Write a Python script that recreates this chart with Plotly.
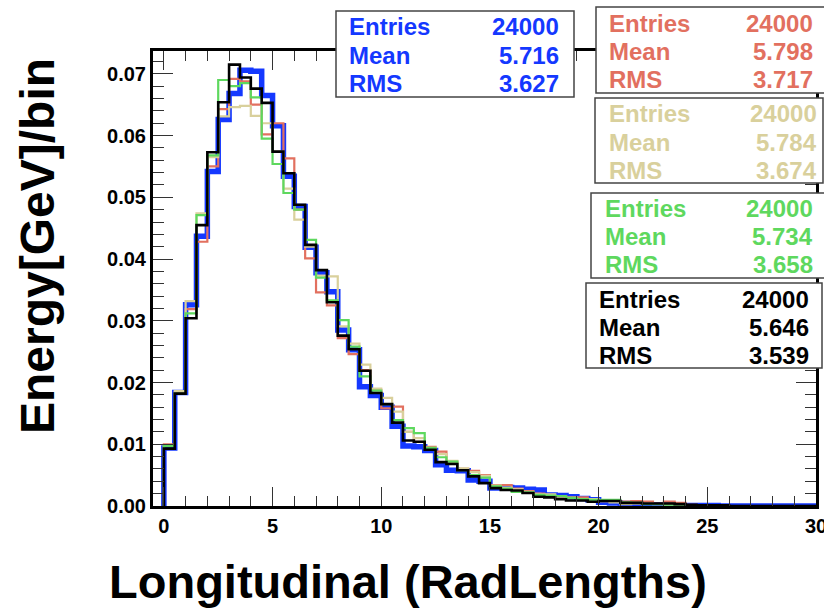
import plotly.graph_objects as go

# ---------------- data ----------------
bin_width = 0.5
x_start = 0.0

blue = [0.0094, 0.0184, 0.0326, 0.0437, 0.0542, 0.0626, 0.0668, 0.0706, 0.0704, 0.0665,
        0.0616, 0.0534, 0.0485, 0.0419, 0.0378, 0.0347, 0.0285, 0.0253, 0.0193, 0.0179,
        0.0160, 0.0129, 0.0097, 0.0096, 0.0090, 0.0067, 0.0058, 0.0057, 0.0042, 0.0040,
        0.0029, 0.0030, 0.0029, 0.0027, 0.0026, 0.0018, 0.0017, 0.0015, 0.0012, 0.0010,
        0.0006, 0.0005, 0.0004, 0.0003, 0.0002, 0.0002, 0.0002, 0.0001, 0.0001, 0.0001,
        0.0001, 0.0, 0.0, 0.0, 0.0, 0.0, 0.0, 0.0, 0.0, 0.0]
red = [0.0100, 0.0184, 0.0319, 0.0428, 0.0550, 0.0643, 0.0692, 0.0688, 0.0650, 0.0602,
       0.0620, 0.0563, 0.0480, 0.0401, 0.0346, 0.0325, 0.0272, 0.0246, 0.0220, 0.0188,
       0.0158, 0.0161, 0.0120, 0.0104, 0.0096, 0.0088, 0.0072, 0.0060, 0.0057, 0.0050,
       0.0034, 0.0034, 0.0028, 0.0024, 0.0020, 0.0018, 0.0015, 0.0014, 0.0014, 0.0010,
       0.0008, 0.0008, 0.0007, 0.0008, 0.0007, 0.0004, 0.0007, 0.0005, 0.0002, 0.0001,
       0.0001, 0.0001, 0.0, 0.0, 0.0, 0.0, 0.0, 0.0, 0.0, 0.0]
tan = [0.0098, 0.0186, 0.0332, 0.0474, 0.0565, 0.0631, 0.0646, 0.0648, 0.0632, 0.0620,
       0.0574, 0.0514, 0.0464, 0.0420, 0.0373, 0.0372, 0.0291, 0.0263, 0.0229, 0.0190,
       0.0175, 0.0153, 0.0120, 0.0110, 0.0094, 0.0084, 0.0073, 0.0061, 0.0055, 0.0049,
       0.0033, 0.0030, 0.0027, 0.0023, 0.0019, 0.0019, 0.0016, 0.0013, 0.0011, 0.0011,
       0.0008, 0.0006, 0.0003, 0.0004, 0.0004, 0.0003, 0.0002, 0.0002, 0.0001, 0.0001,
       0.0001, 0.0, 0.0, 0.0, 0.0, 0.0, 0.0, 0.0, 0.0, 0.0]
green = [0.0097, 0.0182, 0.0312, 0.0471, 0.0568, 0.0690, 0.0680, 0.0685, 0.0662, 0.0595,
         0.0554, 0.0507, 0.0480, 0.0431, 0.0370, 0.0333, 0.0301, 0.0258, 0.0210, 0.0187,
         0.0165, 0.0139, 0.0126, 0.0118, 0.0094, 0.0079, 0.0072, 0.0058, 0.0050, 0.0046,
         0.0032, 0.0028, 0.0023, 0.0022, 0.0018, 0.0017, 0.0016, 0.0013, 0.0011, 0.0010,
         0.0010, 0.0010, 0.0006, 0.0005, 0.0003, 0.0003, 0.0002, 0.0002, 0.0001, 0.0001,
         0.0001, 0.0, 0.0, 0.0, 0.0, 0.0, 0.0, 0.0, 0.0, 0.0]
black = [0.0093, 0.0182, 0.0304, 0.0455, 0.0573, 0.0654, 0.0715, 0.0694, 0.0676, 0.0653,
         0.0574, 0.0539, 0.0488, 0.0423, 0.0382, 0.0330, 0.0276, 0.0254, 0.0219, 0.0183,
         0.0165, 0.0135, 0.0106, 0.0104, 0.0091, 0.0071, 0.0068, 0.0058, 0.0048, 0.0037,
         0.0029, 0.0026, 0.0025, 0.0021, 0.0015, 0.0014, 0.0011, 0.0009, 0.0009, 0.0007,
         0.0008, 0.0008, 0.0005, 0.0005, 0.0004, 0.0004, 0.0004, 0.0003, 0.0002, 0.0001,
         0.0001, 0.0001, 0.0, 0.0, 0.0, 0.0, 0.0, 0.0, 0.0, 0.0]

stat_labels = ["Entries", "Mean", "RMS"]
stats_blue = ["24000", "5.716", "3.627"]
stats_red = ["24000", "5.798", "3.717"]
stats_tan = ["24000", "5.784", "3.674"]
stats_green = ["24000", "5.734", "3.658"]
stats_black = ["24000", "5.646", "3.539"]

x_tick_vals = [0, 5, 10, 15, 20, 25, 30]
y_tick_vals = [0.00, 0.01, 0.02, 0.03, 0.04, 0.05, 0.06, 0.07]

# ---------------- styles ----------------
C_BLUE = "#1438ff"
C_RED = "#e2705f"
C_TAN = "#d9d09c"
C_GREEN = "#5ed85e"
C_BLACK = "#000000"

W, H = 824, 612
PL, PR, PT, PB = 153, 816, 51, 506   # plot-area pixel box
PW, PH = PR - PL, PB - PT


def px2x(px):
    return (px - PL) / PW


def py2y(py):
    return (PB - py) / PH


def step_xy(vals):
    n = len(vals)
    xs = [x_start] + [x_start + i * bin_width for i in range(n)] + [x_start + n * bin_width]
    ys = [0.0] + list(vals) + [vals[-1]]
    return xs, ys


fig = go.Figure()
series = [(blue, C_BLUE, 5.5), (red, C_RED, 2.2), (tan, C_TAN, 2.2),
          (green, C_GREEN, 2.2), (black, C_BLACK, 2.6)]
for vals, col, lw in series:
    xs, ys = step_xy(vals)
    fig.add_trace(go.Scatter(x=xs, y=ys, mode="lines", line=dict(color=col, width=lw, shape="hv"),
                             showlegend=False, hoverinfo="skip"))

FONT = "Liberation Sans, Arial, Helvetica, sans-serif"

fig.update_layout(
    width=W, height=H,
    margin=dict(l=PL, r=W - PR, t=PT, b=H - PB, pad=0, autoexpand=False),
    paper_bgcolor="white", plot_bgcolor="white",
    font=dict(family=FONT, color="black"),
    xaxis=dict(range=[-0.5, 30], tickvals=x_tick_vals, ticktext=[str(v) for v in x_tick_vals],
               ticks="inside", ticklen=19, tickwidth=1.3, tickcolor="#333",
               minor=dict(dtick=1, tick0=0, ticks="inside", ticklen=10, tickwidth=1.1, tickcolor="#333"),
               showline=True, linewidth=3, linecolor="black", mirror="ticks",
               showgrid=False, zeroline=False, ticklabeloverflow="allow", automargin=False,
               tickfont=dict(size=20, family=FONT, weight="bold")),
    yaxis=dict(range=[0, 0.0737], tickvals=y_tick_vals, ticktext=["%.2f" % v for v in y_tick_vals],
               ticks="inside", ticklen=20, tickwidth=1.3, tickcolor="#333",
               minor=dict(dtick=0.002, tick0=0, ticks="inside", ticklen=11, tickwidth=1.1, tickcolor="#333"),
               showline=True, linewidth=3, linecolor="black", mirror="ticks",
               showgrid=False, zeroline=False, ticklabeloverflow="allow", automargin=False,
               tickfont=dict(size=20, family=FONT, weight="bold")),
)

annotations = [
    dict(text="Longitudinal (RadLengths)", xref="paper", yref="paper",
         x=px2x(408), y=py2y(581), xanchor="center", yanchor="middle", showarrow=False,
         font=dict(size=47, family=FONT, weight="bold", color="black")),
    dict(text="Energy[GeV]/bin", xref="paper", yref="paper", textangle=-90,
         x=px2x(37), y=py2y(246), xanchor="center", yanchor="middle", showarrow=False,
         font=dict(size=48, family=FONT, weight="bold", color="black")),
]

shapes = []
# stats boxes: (stats, colour, box x0, x1, y0, y1, label x, value right x, first row y)
boxes = [
    (stats_blue, C_BLUE, 336, 574, 11, 97, 347, 561, 27),
    (stats_red, C_RED, 596, 828, 7, 93, 607, 815, 23),
    (stats_tan, C_TAN, 595, 823, 98, 183, 607, 819, 114),
    (stats_green, C_GREEN, 591, 828, 193, 278, 603, 815, 208),
    (stats_black, C_BLACK, 586, 822, 283, 368, 597, 811, 299),
]
ROW = 28.3
for stats, col, bx0, bx1, by0, by1, lx, vx, ry in boxes:
    shapes.append(dict(type="rect", xref="paper", yref="paper",
                       x0=px2x(bx0), x1=px2x(bx1), y0=py2y(by1), y1=py2y(by0),
                       line=dict(color="#444", width=1.5), fillcolor="white", layer="above"))
    for i, (lab, val) in enumerate(zip(stat_labels, stats)):
        yy = py2y(ry + i * ROW)
        annotations.append(dict(text=lab, xref="paper", yref="paper", x=px2x(lx), y=yy,
                                xanchor="left", yanchor="middle", showarrow=False,
                                font=dict(size=24, family=FONT, weight="bold", color=col)))
        annotations.append(dict(text=val, xref="paper", yref="paper", x=px2x(vx), y=yy,
                                xanchor="right", yanchor="middle", showarrow=False,
                                font=dict(size=24, family=FONT, weight="bold", color=col)))

fig.update_layout(annotations=annotations, shapes=shapes)
fig.write_html("out.html")
